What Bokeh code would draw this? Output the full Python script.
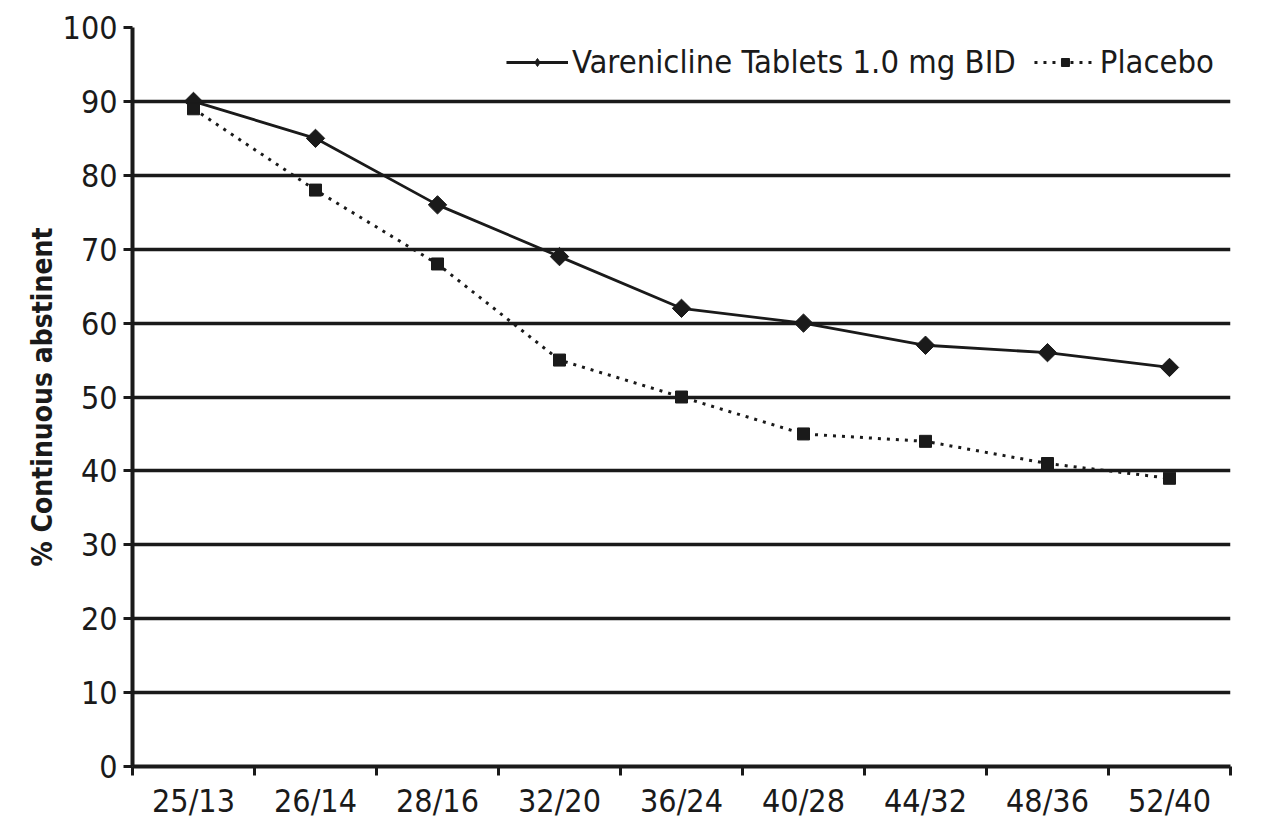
import math
from bokeh.plotting import figure
from bokeh.models import FixedTicker, Range1d, Legend, LegendItem
from bokeh.embed import file_html
from bokeh.resources import INLINE

categories = ["25/13", "26/14", "28/16", "32/20", "36/24", "40/28", "44/32", "48/36", "52/40"]
varenicline = [90, 85, 76, 69, 62, 60, 57, 56, 54]
placebo = [89, 78, 68, 55, 50, 45, 44, 41, 39]
y_ticks = [0, 10, 20, 30, 40, 50, 60, 70, 80, 90, 100]

FONT = "DejaVu Sans Condensed, Roboto, sans-serif"

xs = [i + 0.5 for i in range(len(categories))]

p = figure(width=1261, height=826, output_backend="svg", toolbar_location=None,
           x_range=Range1d(0, len(categories)), y_range=Range1d(0, 100),
           min_border_left=132, min_border_right=31, min_border_top=27, min_border_bottom=60)
p.outline_line_color = None
p.background_fill_color = "white"

# axes
p.xaxis.ticker = FixedTicker(ticks=xs, minor_ticks=list(range(len(categories) + 1)))
p.xaxis.major_label_overrides = {x: c for x, c in zip(xs, categories)}
p.xaxis.major_tick_out = 0
p.xaxis.major_tick_in = 0
p.xaxis.minor_tick_out = 9
p.xaxis.minor_tick_in = 0
p.xaxis.minor_tick_line_width = 3
p.xaxis.minor_tick_line_color = "#1a1a1a"
p.xaxis.major_label_standoff = 6
p.yaxis.ticker = FixedTicker(ticks=y_ticks, minor_ticks=[])
p.yaxis.major_tick_out = 9
p.yaxis.major_tick_in = 0
p.yaxis.major_tick_line_width = 3
p.yaxis.major_tick_line_color = "#1a1a1a"
p.yaxis.major_label_standoff = 6
for ax in (p.xaxis, p.yaxis):
    ax.axis_line_width = 4
    ax.axis_line_color = "#1a1a1a"
    ax.major_label_text_font = FONT
    ax.major_label_text_font_size = "32px"
    ax.major_label_text_color = "#1a1a1a"
p.yaxis.axis_label = "% Continuous abstinent"
p.yaxis.axis_label_text_font = FONT
p.yaxis.axis_label_text_font_style = "bold"
p.yaxis.axis_label_text_font_size = "28px"
p.yaxis.axis_label_text_color = "#1a1a1a"
p.yaxis.axis_label_standoff = 1

p.xgrid.grid_line_color = None
p.ygrid.grid_line_color = "#1a1a1a"
p.ygrid.grid_line_width = 3.5

# series
v_line = p.line(xs, varenicline, line_color="#1a1a1a", line_width=2.8)
v_mark = p.scatter(xs, varenicline, marker="square", angle=math.pi / 4, size=13,
                   fill_color="#1a1a1a", line_color="#1a1a1a")
p_line = p.line(xs, placebo, line_color="#1a1a1a", line_width=3, line_dash="3 6")
p_mark = p.scatter(xs, placebo, marker="square", size=12, fill_color="#1a1a1a", line_color="#1a1a1a")
# legend-only key glyph (value is NaN, so nothing is drawn in the plot) to show a diamond key
v_key = p.scatter(x=xs[:1], y=[float("nan")], marker="diamond", size=13,
                  fill_color="#1a1a1a", line_color="#1a1a1a")

legend = Legend(items=[
    LegendItem(label="Varenicline Tablets 1.0 mg BID", renderers=[v_line, v_key]),
    LegendItem(label="Placebo", renderers=[p_line, p_mark]),
], orientation="horizontal", location="top_right")
legend.border_line_color = None
legend.background_fill_alpha = 0
legend.label_text_font = FONT
legend.label_text_font_size = "32.5px"
legend.label_text_color = "#1a1a1a"
legend.glyph_width = 62
legend.spacing = 18
legend.padding = 10
legend.margin = 16
legend.label_standoff = 4
p.add_layout(legend)

open("out.html", "w").write(file_html(p, INLINE))
